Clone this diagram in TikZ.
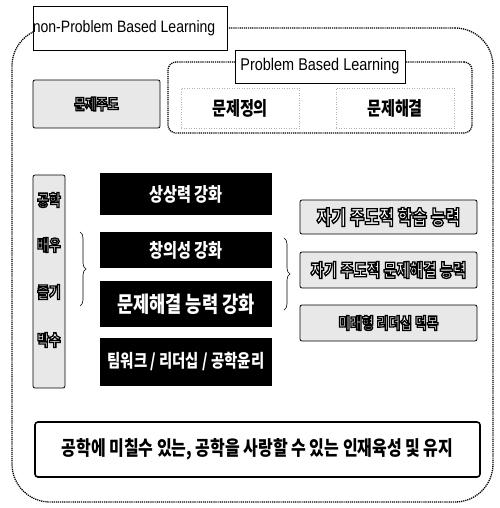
\documentclass[tikz,border=0pt]{standalone}
\usepackage{fontspec}
\setmainfont{Liberation Sans}
\newfontfamily\en[FakeStretch=0.85]{Liberation Sans}
\newfontfamily\kr[FakeStretch=0.8,BoldFeatures={FakeStretch=0.8}]{Noto Sans CJK KR}
\usetikzlibrary{decorations.pathreplacing}
\newcommand\outtxt[1]{\special{pdf:code q}{\color{white}\special{pdf:code 0 G 1.3 w 2 Tr}#1}\special{pdf:code Q}}
\newcommand\ksz[1]{\kr\bfseries\fontsize{#1}{#1}\selectfont}
\tikzset{
  dotline/.style={line width=1.3pt, dash pattern=on 1.2pt off 0.9pt},
  blackbox/.style={fill=black, text=white, minimum width=172pt, inner sep=0pt},
  graybox/.style={draw=black, line width=0.8pt, fill=gray!18, rounded corners=2pt, inner sep=0pt},
  labelbox/.style={draw=black, fill=white, line width=0.7pt, inner sep=2pt},
  subbox/.style={draw=gray!60, dotted, line width=0.5pt, minimum width=118pt, minimum height=40pt},
  bracestyle/.style={decorate, decoration={brace, amplitude=6pt}, line width=0.6pt}
}
\begin{document}
\begin{tikzpicture}[x=1pt,y=-1pt]
\useasboundingbox (0,0) rectangle (499,508);
% outer dotted frame
\node[draw, dotline, rounded corners=38pt, minimum width=481pt, minimum height=474pt] (outer) at (252.5,265) {};
% non-PBL label
\node[labelbox, minimum width=194pt, minimum height=44pt] (npbl) at (130,28) {};
\node[anchor=west, inner sep=0pt, font=\en\fontsize{16.5}{16.5}\selectfont] (npbltxt) at (npbl.west) {non-Problem Based Learning};
% PBL frame
\node[draw, dotline, rounded corners=8pt, minimum width=304pt, minimum height=71pt] (pbl) at (320,97.5) {};
\node[labelbox, minimum width=170pt, minimum height=33pt, font=\en\fontsize{17}{17}\selectfont] (pbllab) at (320,66.5) {Problem Based Learning};
\node[subbox] (def) at (240,108) {\ksz{19}문제정의};
\node[subbox] (res) at (395,108) {\ksz{19}문제해결};
% non-PBL box
\node[graybox, minimum width=127pt, minimum height=48pt] (nonp) at (96.5,104) {\ksz{15}\outtxt{문제주도}};
% vertical box
\node[graybox, minimum width=32pt, minimum height=213pt] (vert) at (49,281.5) {};
\node (v1) at (49,200) {\ksz{16}\outtxt{공학}};
\node (v2) at (49,245) {\ksz{16}\outtxt{배우}};
\node (v3) at (49,292) {\ksz{16}\outtxt{즐기}};
\node (v4) at (49,340) {\ksz{16}\outtxt{박수}};
% brace 1
\coordinate (br1a) at (80,232);
\coordinate (br1b) at (80,306);
\draw[bracestyle] (br1a) -- (br1b);
% black boxes
\node[blackbox, minimum height=42pt] (b1) at (186,194) {\ksz{19}상상력 강화};
\node[blackbox, minimum height=36pt] (b2) at (186,250) {\ksz{19}창의성 강화};
\node[blackbox, minimum height=46pt] (b3) at (186,304) {\ksz{22}문제해결 능력 강화};
\node[blackbox, minimum height=48pt] (b4) at (186,362) {\ksz{18}팀워크 / 리더십 / 공학윤리};
% brace 2
\coordinate (br2a) at (284,238);
\coordinate (br2b) at (284,310);
\draw[bracestyle] (br2a) -- (br2b);
% right boxes
\node[graybox, minimum width=177pt, minimum height=34pt] (r1) at (388.5,217) {\ksz{20}\outtxt{자기 주도적 학습 능력}};
\node[graybox, minimum width=177pt, minimum height=36pt] (r2) at (388.5,270) {\ksz{18}\outtxt{자기 주도적 문제해결 능력}};
\node[graybox, minimum width=177pt, minimum height=36pt] (r3) at (388.5,323) {\ksz{16}\outtxt{미래형 리더십 덕목}};
% bottom box
\node[draw=black, line width=1.6pt, rounded corners=3pt, fill=white, minimum width=445pt, minimum height=55pt, inner sep=0pt] (bot) at (257.5,449.5) {\ksz{20}공학에 미칠수 있는, 공학을 사랑할 수 있는 인재육성 및 유지};
\end{tikzpicture}
\end{document}
